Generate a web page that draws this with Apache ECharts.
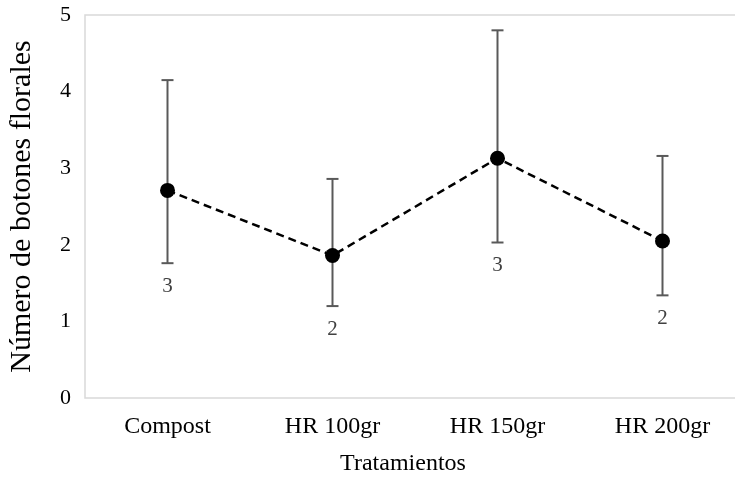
<!DOCTYPE html>
<html>
<head>
<meta charset="utf-8">
<script src="https://cdn.jsdelivr.net/npm/echarts@6/dist/echarts.min.js"></script>
<style>
html,body{margin:0;padding:0;background:#fff;}
#chart{width:735px;height:483px;}
</style>
</head>
<body>
<div id="chart"></div>
<script>
var categories = ['Compost', 'HR 100gr', 'HR 150gr', 'HR 200gr'];
var means = [2.71, 1.86, 3.13, 2.05];
var upperErr = [4.15, 2.86, 4.80, 3.16];
var lowerErr = [1.76, 1.20, 2.03, 1.34];
var countLabels = ['3', '2', '3', '2'];
var yTicks = [0, 1, 2, 3, 4, 5];

var FONT = '"Liberation Serif", "Times New Roman", serif';

var errData = categories.map(function (c, i) { return [i, lowerErr[i], upperErr[i], countLabels[i]]; });

var chart = echarts.init(document.getElementById('chart'));
chart.setOption({
  animation: false,
  backgroundColor: '#fff',
  grid: {
    left: 85, top: 15, width: 660, height: 383,
    containLabel: false,
    outerBoundsMode: 'none',
    show: true, borderColor: '#d9d9d9', borderWidth: 1.5, backgroundColor: 'transparent'
  },
  xAxis: {
    type: 'category',
    data: categories,
    boundaryGap: true,
    axisLine: { show: false },
    axisTick: { show: false },
    axisLabel: { color: '#000', fontFamily: FONT, fontSize: 24, margin: 17 },
    name: 'Tratamientos',
    nameLocation: 'middle',
    nameGap: 54,
    nameTextStyle: { color: '#000', fontFamily: FONT, fontSize: 24, padding: [0, 24, 0, 0] }
  },
  yAxis: {
    type: 'value',
    min: yTicks[0],
    max: yTicks[yTicks.length - 1],
    interval: 1,
    axisLine: { show: false },
    axisTick: { show: false },
    splitLine: { show: false },
    axisLabel: { color: '#000', fontFamily: FONT, fontSize: 22, margin: 14 },
    name: 'Número de botones florales',
    nameLocation: 'middle',
    nameGap: 48,
    nameTextStyle: { color: '#000', fontFamily: FONT, fontSize: 30 }
  },
  series: [
    {
      type: 'custom',
      z: 2,
      data: errData,
      renderItem: function (params, api) {
        var x = api.value(0);
        var lo = api.coord([x, api.value(1)]);
        var hi = api.coord([x, api.value(2)]);
        var cap = 6;
        var st = { stroke: '#595959', lineWidth: 2 };
        return {
          type: 'group',
          children: [
            { type: 'line', shape: { x1: lo[0], y1: lo[1], x2: hi[0], y2: hi[1] }, style: st },
            { type: 'line', shape: { x1: lo[0] - cap, y1: lo[1], x2: lo[0] + cap, y2: lo[1] }, style: st },
            { type: 'line', shape: { x1: hi[0] - cap, y1: hi[1], x2: hi[0] + cap, y2: hi[1] }, style: st },
            { type: 'text', x: lo[0], y: lo[1] + 23,
              style: { text: String(api.value(3)), fill: '#404040', font: '21px ' + FONT, align: 'center', verticalAlign: 'middle' } }
          ]
        };
      }
    },
    {
      type: 'line',
      z: 5,
      data: means,
      symbol: 'circle',
      symbolSize: 15,
      itemStyle: { color: '#000' },
      lineStyle: { color: '#000', width: 2.5, type: [8, 5] }
    }
  ]
});
</script>
</body>
</html>
